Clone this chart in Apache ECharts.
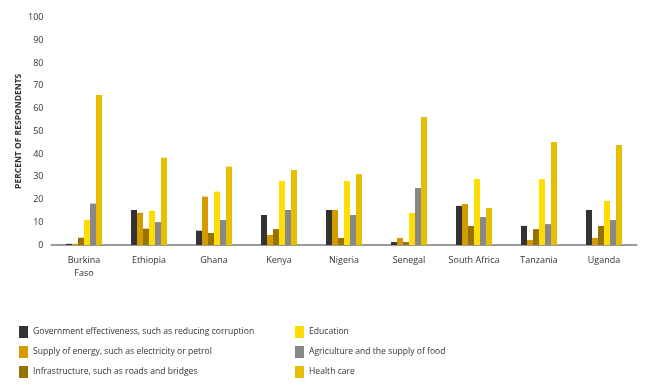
<!DOCTYPE html>
<html>
<head>
<meta charset="utf-8">
<script src="https://cdn.jsdelivr.net/npm/echarts@6/dist/echarts.min.js"></script>
<style>html,body{margin:0;padding:0;background:#fff}#c{width:653px;height:389px}</style>
</head>
<body>
<div id="c"></div>
<script>
const categories = ['Burkina\nFaso','Ethiopia','Ghana','Kenya','Nigeria','Senegal','South Africa','Tanzania','Uganda'];
const seriesNames = [
  'Government effectiveness, such as reducing corruption',
  'Supply of energy, such as electricity or petrol',
  'Infrastructure, such as roads and bridges',
  'Education',
  'Agriculture and the supply of food',
  'Health care'
];
const government = [0.5, 15.4, 6.3, 13.2, 15.4, 1.3, 17.2, 8.4, 15.4];
const energy = [0.5, 14.2, 21.3, 4.4, 15.4, 3.1, 18.0, 2.2, 3.1];
const infrastructure = [3.2, 7.2, 5.3, 7.0, 3.1, 1.3, 8.4, 7.0, 8.4];
const education = [11.1, 15.1, 23.5, 28.2, 28.2, 14.1, 29.0, 29.0, 19.4];
const agriculture = [18.2, 10.1, 11.0, 15.4, 13.2, 25.1, 12.3, 9.2, 11.0];
const healthCare = [66.0, 38.4, 34.5, 33.0, 31.2, 56.3, 16.3, 45.3, 44.0];
const yTicks = [0,10,20,30,40,50,60,70,80,90,100];

const colors = ['#333333','#D49B00','#967300','#FFDD00','#888888','#E6C000'];
const values = [government, energy, infrastructure, education, agriculture, healthCare];
const font = 'Open Sans, sans-serif';

const chart = echarts.init(document.getElementById('c'));
chart.setOption({
  animation: false,
  textStyle: {fontFamily: font},
  grid: {left: 51.5, right: 16.5, top: 17.7, bottom: 144},
  legend: [
    {data: seriesNames.slice(0,3), orient: 'vertical', left: 14, top: 321, itemWidth: 9, itemHeight: 12, itemGap: 8, icon: 'rect',
     textStyle: {fontSize: 8.6, color: '#333', fontFamily: font}, selectedMode: false},
    {data: seriesNames.slice(3), orient: 'vertical', left: 290, top: 321, itemWidth: 9, itemHeight: 12, itemGap: 8, icon: 'rect',
     textStyle: {fontSize: 8.6, color: '#333', fontFamily: font}, selectedMode: false}
  ],
  xAxis: {
    type: 'category', data: categories,
    axisLine: {lineStyle: {color: '#999', width: 2}},
    axisTick: {show: false},
    axisLabel: {fontSize: 9, color: '#333', margin: 9, lineHeight: 13, interval: 0, fontFamily: font}
  },
  yAxis: {
    type: 'value', min: yTicks[0], max: yTicks[yTicks.length-1], interval: 10,
    name: 'PERCENT OF RESPONDENTS', nameLocation: 'middle', nameGap: 28, nameMoveOverlap: false,
    nameTextStyle: {fontSize: 8.5, fontWeight: 'bold', color: '#333', fontFamily: font},
    axisLine: {show: false}, axisTick: {show: false}, splitLine: {show: false},
    axisLabel: {fontSize: 9, color: '#333', margin: 8, fontFamily: font}
  },
  series: seriesNames.map((n, i) => ({
    name: n, type: 'bar', data: values[i], barGap: '0%', barWidth: 6,
    itemStyle: {color: colors[i]}
  }))
});
</script>
</body>
</html>
